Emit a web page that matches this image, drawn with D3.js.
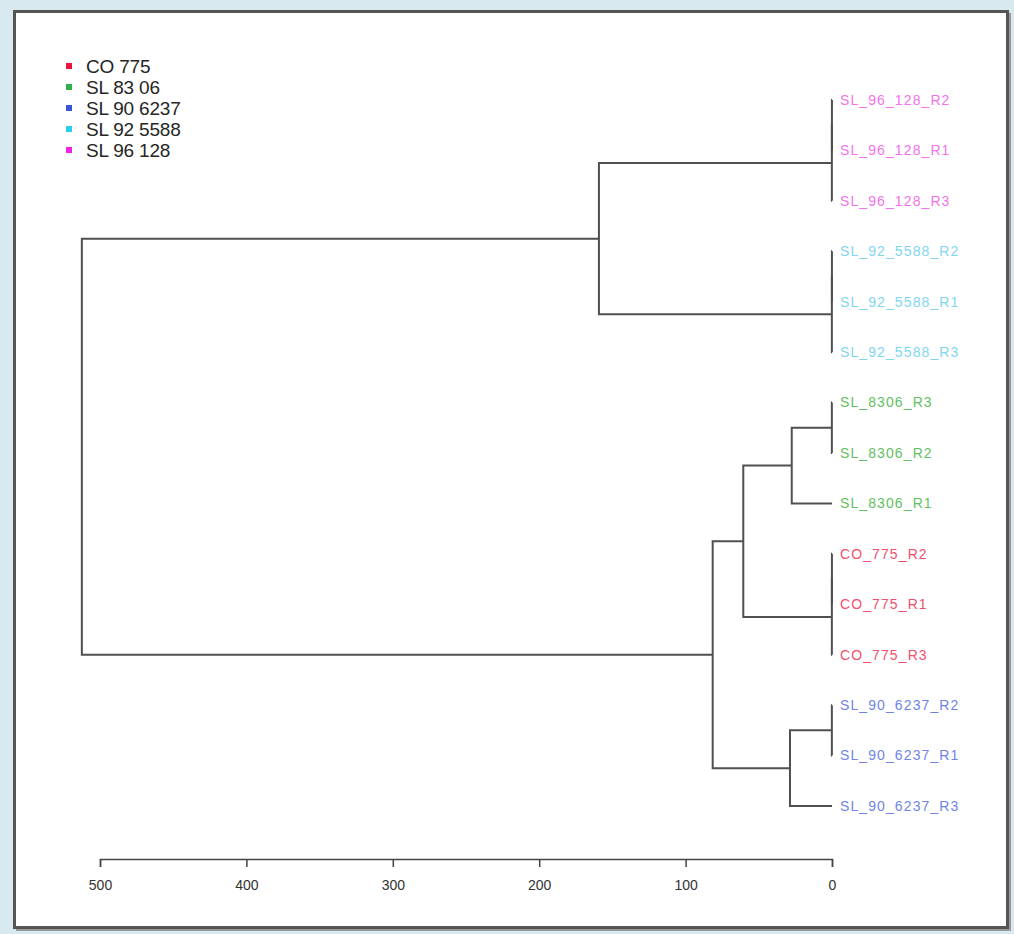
<!DOCTYPE html>
<html>
<head>
<meta charset="utf-8">
<script src="https://d3js.org/d3.v7.min.js"></script>
<style>
  body { margin: 0; background: #d8eaf0; }
  svg { display: block; font-family: "Liberation Sans", Arial, sans-serif; }
</style>
</head>
<body>
<div id="chart"></div>
<script>
// leaves, top to bottom as they appear in the dendrogram
const leafLabels = [
  "SL_96_128_R2", "SL_96_128_R1", "SL_96_128_R3",
  "SL_92_5588_R2", "SL_92_5588_R1", "SL_92_5588_R3",
  "SL_8306_R3", "SL_8306_R2", "SL_8306_R1",
  "CO_775_R2", "CO_775_R1", "CO_775_R3",
  "SL_90_6237_R2", "SL_90_6237_R1", "SL_90_6237_R3"
];
// group index of each leaf (into groupNames)
const leafGroup = [4, 4, 4, 3, 3, 3, 1, 1, 1, 0, 0, 0, 2, 2, 2];

const groupNames = ["CO 775", "SL 83 06", "SL 90 6237", "SL 92 5588", "SL 96 128"];
const groupColors = ["#e8123e", "#2eb04a", "#3b55cf", "#28cdf0", "#ef22e6"];
const labelColors = ["#f0506e", "#62c062", "#6f84e6", "#7fd6f0", "#f472ee"];

// merges like hclust: [left, right, height]; "mN" refers to merge N
const merges = [
  ["SL_96_128_R2", "SL_96_128_R1", 0.05],
  ["m0", "SL_96_128_R3", 0.1],
  ["SL_92_5588_R2", "SL_92_5588_R1", 0.05],
  ["m2", "SL_92_5588_R3", 0.1],
  ["SL_8306_R3", "SL_8306_R2", 0.1],
  ["m4", "SL_8306_R1", 27.5],
  ["CO_775_R2", "CO_775_R1", 0.05],
  ["m6", "CO_775_R3", 0.1],
  ["SL_90_6237_R2", "SL_90_6237_R1", 0.1],
  ["m8", "SL_90_6237_R3", 28.7],
  ["m5", "m7", 60.6],
  ["m10", "m9", 81.5],
  ["m1", "m3", 159.2],
  ["m12", "m11", 512.4]
];

const axisTicks = [500, 400, 300, 200, 100, 0];

const width = 1014, height = 934;

const svg = d3.select("#chart").append("svg")
  .attr("width", width)
  .attr("height", height);

// panel with frame and shadow
svg.append("rect").attr("x", 16).attr("y", 13).attr("width", 995).attr("height", 918)
  .attr("fill", "#9a9a9a");
svg.append("rect").attr("x", 14.5).attr("y", 11.5).attr("width", 993).attr("height", 916)
  .attr("fill", "#fff").attr("stroke", "#555").attr("stroke-width", 3);

// build the tree from the merge table
const nodes = {};
leafLabels.forEach((name, i) => { nodes[name] = { name, h: 0, group: leafGroup[i] }; });
merges.forEach((m, i) => {
  nodes["m" + i] = { name: "m" + i, h: m[2], children: [nodes[m[0]], nodes[m[1]]] };
});
const root = d3.hierarchy(nodes["m" + (merges.length - 1)]);

const x = d3.scaleLinear().domain([500, 0]).range([100, 832]);
const y = d3.scalePoint().domain(leafLabels).range([100, 806]);

root.eachAfter(d => {
  d.px = x(d.data.h);
  d.py = d.children ? d3.mean(d.children, c => c.py) : y(d.data.name);
});

// links: vertical bar at each merge, horizontals to each child
const g = svg.append("g")
  .attr("fill", "none")
  .attr("stroke", "#505050")
  .attr("stroke-width", 2);

root.descendants().filter(d => d.children).forEach(d => {
  const [a, b] = d.children;
  g.append("path").attr("d",
    `M${a.px},${a.py}H${d.px}V${b.py}H${b.px}`);
});

// leaf labels
svg.append("g").selectAll("text")
  .data(root.leaves())
  .join("text")
  .attr("x", 840)
  .attr("y", d => d.py)
  .attr("dy", "0.35em")
  .attr("font-size", 14)
  .attr("letter-spacing", 1.1)
  .attr("fill", d => labelColors[d.data.group])
  .text(d => d.data.name);

// axis
const axis = svg.append("g")
  .attr("transform", "translate(0,859)")
  .call(d3.axisBottom(x).tickValues(axisTicks).tickSize(8).tickPadding(13).tickFormat(d3.format("d")));
axis.select(".domain").attr("stroke", "#444").attr("stroke-width", 1.5);
axis.selectAll(".tick line").attr("stroke", "#444").attr("stroke-width", 1.5);
axis.selectAll(".tick text").attr("font-size", 14).attr("fill", "#333")
  .attr("font-family", "'Liberation Sans Narrow', 'Liberation Sans', sans-serif");

// legend
const legend = svg.append("g").selectAll("g")
  .data(groupNames)
  .join("g")
  .attr("transform", (d, i) => `translate(0,${66 + i * 21})`);
legend.append("rect")
  .attr("x", 66).attr("y", -3).attr("width", 6).attr("height", 6)
  .attr("fill", (d, i) => groupColors[i]);
legend.append("text")
  .attr("x", 86).attr("dy", "0.35em")
  .attr("font-size", 19)
  .attr("letter-spacing", -0.2)
  .attr("fill", "#262626")
  .text(d => d);
</script>
</body>
</html>
